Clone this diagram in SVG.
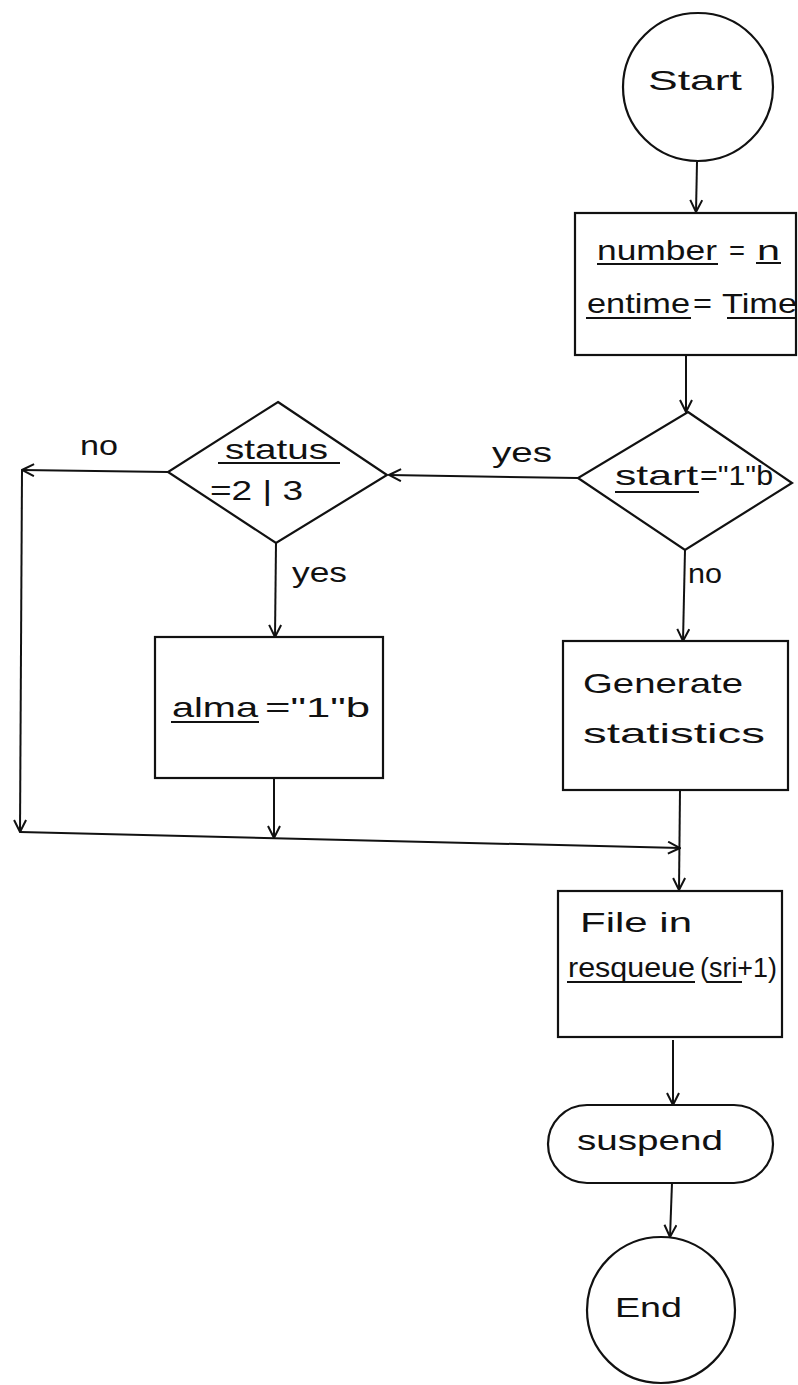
<svg xmlns="http://www.w3.org/2000/svg" width="798" height="1385" viewBox="0 0 798 1385">
<defs>
<marker id="arr" viewBox="0 0 14 14" refX="13" refY="7" markerWidth="14" markerHeight="14" markerUnits="userSpaceOnUse" orient="auto">
<path d="M1,1 L13,7 L1,13" fill="none" stroke="#111" stroke-width="2"/>
</marker>
<style>
.s{fill:none;stroke:#111;stroke-width:2.2}
.c{fill:none;stroke:#111;stroke-width:2;marker-end:url(#arr)}
.u{stroke:#111;stroke-width:2}
text{font-family:"Liberation Sans",Arial,sans-serif;font-size:28px;fill:#111}
</style>
</defs>
<rect width="798" height="1385" fill="#fff"/>
<g id="connectors">
<line class="c" x1="697" y1="162" x2="696" y2="212"/>
<line class="c" x1="686" y1="356" x2="686" y2="412"/>
<line class="c" x1="578" y1="478" x2="389" y2="475"/>
<text x="492" y="462" textLength="60" lengthAdjust="spacingAndGlyphs">yes</text>
<line class="c" x1="168" y1="472" x2="22" y2="470"/>
<text x="80" y="455" textLength="38" lengthAdjust="spacingAndGlyphs">no</text>
<line class="c" x1="22" y1="470" x2="20" y2="832"/>
<line class="c" x1="20" y1="832" x2="680" y2="848"/>
<line class="c" x1="276" y1="543" x2="275" y2="637"/>
<text x="292" y="582" textLength="55" lengthAdjust="spacingAndGlyphs">yes</text>
<line class="c" x1="274" y1="778" x2="274" y2="838"/>
<line class="c" x1="685" y1="550" x2="683" y2="641"/>
<text x="688" y="583" textLength="34" lengthAdjust="spacingAndGlyphs">no</text>
<line class="c" x1="680" y1="790" x2="679" y2="890"/>
<line class="c" x1="673" y1="1040" x2="673" y2="1105"/>
<line class="c" x1="672" y1="1183" x2="670" y2="1237"/>
</g>
<g id="start">
<ellipse class="s" cx="698" cy="87" rx="75" ry="74"/>
<text x="648" y="90" textLength="94" lengthAdjust="spacingAndGlyphs">Start</text>
</g>
<g id="assign">
<rect class="s" x="575" y="213" width="221" height="142"/>
<text x="597" y="260" textLength="120" lengthAdjust="spacingAndGlyphs">number</text>
<line class="u" x1="597" y1="264" x2="718" y2="264"/>
<text x="729" y="260" textLength="16" lengthAdjust="spacingAndGlyphs">=</text>
<text x="757" y="260" textLength="23" lengthAdjust="spacingAndGlyphs">n</text>
<line class="u" x1="756" y1="263" x2="781" y2="263"/>
<text x="587" y="313" textLength="103" lengthAdjust="spacingAndGlyphs">entime</text>
<line class="u" x1="586" y1="318" x2="691" y2="318"/>
<text x="693" y="313" textLength="19" lengthAdjust="spacingAndGlyphs">=</text>
<text x="722" y="313" textLength="75" lengthAdjust="spacingAndGlyphs">Time</text>
<line class="u" x1="727" y1="318" x2="797" y2="318"/>
</g>
<g id="decision-start">
<polygon class="s" points="688,412 792,483 685,550 578,478"/>
<text x="615" y="485" textLength="83" lengthAdjust="spacingAndGlyphs">start</text>
<line class="u" x1="615" y1="492" x2="699" y2="492"/>
<text x="700" y="485" textLength="73" lengthAdjust="spacingAndGlyphs">="1"b</text>
</g>
<g id="decision-status">
<polygon class="s" points="278,402 387,475 276,543 168,472"/>
<text x="225" y="459" textLength="103" lengthAdjust="spacingAndGlyphs">status</text>
<line class="u" x1="218" y1="463" x2="340" y2="463"/>
<text x="210" y="500" textLength="93" lengthAdjust="spacingAndGlyphs">=2 | 3</text>
</g>
<g id="alma">
<rect class="s" x="155" y="637" width="228" height="141"/>
<text x="172" y="717" textLength="86" lengthAdjust="spacingAndGlyphs">alma</text>
<line class="u" x1="171" y1="722" x2="259" y2="722"/>
<text x="265" y="717" textLength="105" lengthAdjust="spacingAndGlyphs">="1"b</text>
</g>
<g id="generate">
<rect class="s" x="563" y="641" width="225" height="149"/>
<text x="583" y="693" textLength="160" lengthAdjust="spacingAndGlyphs">Generate</text>
<text x="583" y="743" textLength="182" lengthAdjust="spacingAndGlyphs">statistics</text>
</g>
<g id="file">
<rect class="s" x="558" y="891" width="224" height="146"/>
<text x="580" y="932" textLength="112" lengthAdjust="spacingAndGlyphs">File in</text>
<text x="568" y="977" textLength="127" lengthAdjust="spacingAndGlyphs">resqueue</text>
<line class="u" x1="567" y1="982" x2="695" y2="982"/>
<text x="700" y="977" textLength="77" lengthAdjust="spacingAndGlyphs">(sri+1)</text>
<line class="u" x1="707" y1="982" x2="742" y2="982"/>
</g>
<g id="suspend">
<rect class="s" x="548" y="1105" width="225" height="78" rx="39" ry="39"/>
<text x="577" y="1150" textLength="146" lengthAdjust="spacingAndGlyphs">suspend</text>
</g>
<g id="end">
<ellipse class="s" cx="661" cy="1310" rx="74" ry="73"/>
<text x="615" y="1317" textLength="67" lengthAdjust="spacingAndGlyphs">End</text>
</g>
</svg>
